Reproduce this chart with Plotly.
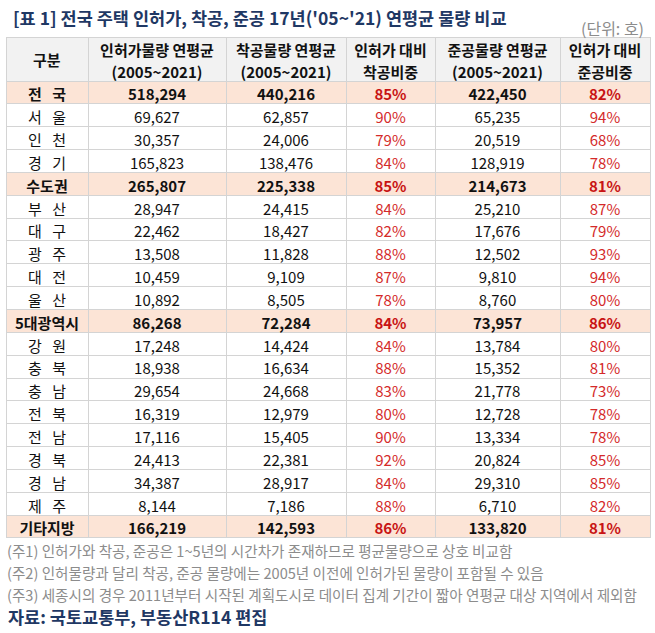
import plotly.graph_objects as go

regions = ["전 국", "서 울", "인 천", "경 기", "수도권", "부 산", "대 구", "광 주", "대 전", "울 산",
           "5대광역시", "강 원", "충 북", "충 남", "전 북", "전 남", "경 북", "경 남", "제 주", "기타지방"]
subtotal = [True, False, False, False, True, False, False, False, False, False,
            True, False, False, False, False, False, False, False, False, True]
permits = [518294, 69627, 30357, 165823, 265807, 28947, 22462, 13508, 10459, 10892,
           86268, 17248, 18938, 29654, 16319, 17116, 24413, 34387, 8144, 166219]
starts = [440216, 62857, 24006, 138476, 225338, 24415, 18427, 11828, 9109, 8505,
          72284, 14424, 16634, 24668, 12979, 15405, 22381, 28917, 7186, 142593]
start_ratio = [85, 90, 79, 84, 85, 84, 82, 88, 87, 78,
               84, 84, 88, 83, 80, 90, 92, 84, 88, 86]
completions = [422450, 65235, 20519, 128919, 214673, 25210, 17676, 12502, 9810, 8760,
               73957, 13784, 15352, 21778, 12728, 13334, 20824, 29310, 6710, 133820]
completion_ratio = [82, 94, 68, 78, 81, 87, 79, 93, 94, 80,
                    86, 80, 81, 73, 78, 78, 85, 85, 82, 81]

# header text, one pair per column: (first line, second line)
header_first = ["", "인허가물량 연평균", "착공물량 연평균", "인허가 대비", "준공물량 연평균", "인허가 대비"]
header_second = ["", "(2005~2021)", "(2005~2021)", "착공비중", "(2005~2021)", "준공비중"]
corner_label = "구분"

title = "[표 1] 전국 주택 인허가, 착공, 준공 17년('05~'21) 연평균 물량 비교"
unit = "(단위: 호)"
notes = [
    "(주1) 인허가와 착공, 준공은 1~5년의 시간차가 존재하므로 평균물량으로 상호 비교함",
    "(주2) 인허물량과 달리 착공, 준공 물량에는 2005년 이전에 인허가된 물량이 포함될 수 있음",
    "(주3) 세종시의 경우 2011년부터 시작된 계획도시로 데이터 집계 기간이 짧아 연평균 대상 지역에서 제외함",
]
source = "자료: 국토교통부, 부동산R114 편집"

FONT = "Noto Sans CJK KR"
W, H = 655, 633
TOP, BOTTOM = 37, 538
HEAD_H = 44
DOMAIN = dict(x=[6 / W, 650 / W], y=[1 - BOTTOM / H, 1 - TOP / H])
COLW = [82, 138, 120, 89, 125, 90]
ROW_H = (BOTTOM - TOP - HEAD_H) / len(regions)
GRID = "#d4d4d4"
HEAD_BG = "#f2f2f2"
CLEAR = "rgba(0,0,0,0)"


def nowrap(s, gap="\u00a0"):
    # plotly tables re-measure (and grow) any cell whose text holds a plain space
    return s.replace(" ", gap)


columns = [
    [nowrap(n, "\u2002\u2009") for n in regions],
    [f"{v:,}" for v in permits],
    [f"{v:,}" for v in starts],
    [f"{v}%" for v in start_ratio],
    [f"{v:,}" for v in completions],
    [f"{v}%" for v in completion_ratio],
]


def pick(col, bold):
    # keep only the rows of one weight, blank the rest
    return [v if b == bold else "" for v, b in zip(col, subtotal)]


row_fill = ["#fce4d6" if b else "white" for b in subtotal]
dark = ["#111111"] * len(regions)
red = ["#c81414" if b else "#d42a2a" for b in subtotal]
colors = [dark, dark, dark, red, dark, red]

fig = go.Figure()
# base table: two-line header (no inner lines), fills, grid and the regular rows
fig.add_trace(
    go.Table(
        domain=DOMAIN,
        columnwidth=COLW,
        header=dict(
            values=[[nowrap(a), nowrap(b)] for a, b in zip(header_first, header_second)],
            fill_color=HEAD_BG,
            line=dict(color=HEAD_BG, width=1),
            align="center",
            height=HEAD_H / 2,
            font=dict(family=FONT, size=15, color="#111111", weight="bold"),
        ),
        cells=dict(
            values=[pick(c, False) for c in columns],
            fill_color=[row_fill] * 6,
            line=dict(color=GRID, width=1),
            align="center",
            height=ROW_H,
            font=dict(family=FONT, size=15, color=colors),
        ),
    )
)
# overlay table: header border and the bold subtotal rows
fig.add_trace(
    go.Table(
        domain=DOMAIN,
        columnwidth=COLW,
        header=dict(
            values=[""] * 6,
            fill_color=CLEAR,
            line=dict(color=GRID, width=1),
            height=HEAD_H,
            font=dict(family=FONT, size=15, color=CLEAR),
        ),
        cells=dict(
            values=[pick(c, True) for c in columns],
            fill_color=CLEAR,
            line=dict(color=CLEAR, width=0),
            align="center",
            height=ROW_H,
            font=dict(family=FONT, size=15, color=colors, weight="bold"),
        ),
    )
)

fig.add_annotation(
    text=f"<b>{corner_label}</b>", xref="paper", yref="paper",
    x=(6 + 88) / 2 / W, y=1 - (TOP + HEAD_H / 2) / H,
    xanchor="center", yanchor="middle", showarrow=False,
    font=dict(family=FONT, size=15, color="#111111"),
)
fig.add_annotation(
    text=f"<b>{title}</b>", xref="paper", yref="paper", x=11 / W, y=1 - 17 / H,
    xanchor="left", yanchor="middle", showarrow=False,
    font=dict(family=FONT, size=17.5, color="#1f3864"),
)
fig.add_annotation(
    text=unit, xref="paper", yref="paper", x=646 / W, y=1 - 28 / H,
    xanchor="right", yanchor="middle", showarrow=False,
    font=dict(family=FONT, size=16, color="#8c8c8c"),
)
for i, n in enumerate(notes):
    fig.add_annotation(
        text=n, xref="paper", yref="paper", x=5 / W, y=1 - (550 + 22 * i) / H,
        xanchor="left", yanchor="middle", showarrow=False,
        font=dict(family=FONT, size=14.6, color="#8c8c8c"),
    )
fig.add_annotation(
    text=f"<b>{source}</b>", xref="paper", yref="paper", x=6 / W, y=1 - 616 / H,
    xanchor="left", yanchor="middle", showarrow=False,
    font=dict(family=FONT, size=17.5, color="#1f3864"),
)

fig.update_layout(
    width=W, height=H,
    margin=dict(l=0, r=0, t=0, b=0),
    paper_bgcolor="white",
    plot_bgcolor="white",
)

fig.write_html(
    "out.html",
    config={"displayModeBar": False},
    post_script="document.body.style.margin='0';",
)
